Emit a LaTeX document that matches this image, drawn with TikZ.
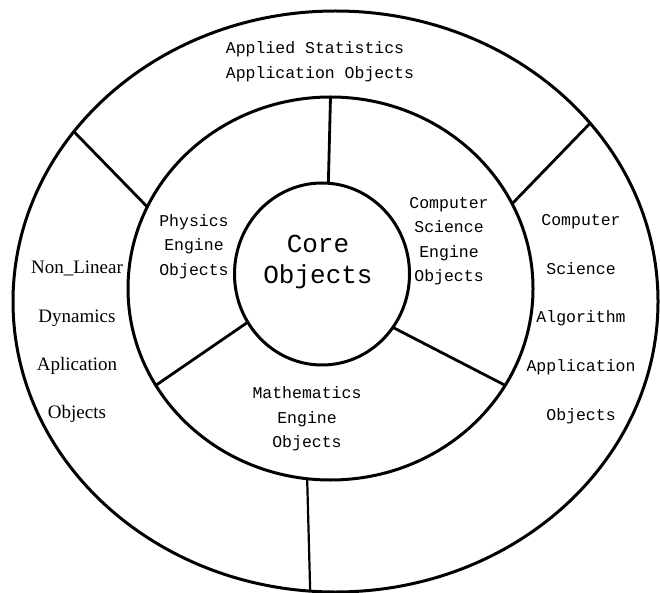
\documentclass[tikz,border=0pt]{standalone}
\usepackage{fontspec}
\newfontfamily\pixfont{Liberation Mono}
\newfontfamily\romfont{Liberation Serif}
\usetikzlibrary{shapes.geometric}
\begin{document}
\begin{tikzpicture}[x=1pt, y=-1pt, line width=3pt,
    ring/.style={draw, ellipse, inner sep=0pt, outer sep=0pt},
    spoke/.style={line width=2.8pt},
    lbl/.style={align=center, inner sep=0pt, font=\pixfont\fontsize{16.5}{24.5}\selectfont},
    col/.style={align=center, inner sep=0pt, font=\pixfont\fontsize{16.5}{48.7}\selectfont}]
  \useasboundingbox (0,0) rectangle (660,593);
  % rings
  \node[ring, minimum width=645pt, minimum height=581pt] (outer) at (335.5,301.5) {};
  \node[ring, minimum width=405pt, minimum height=383pt] (mid) at (330.5,288.5) {};
  \node[ring, minimum width=175pt, minimum height=182pt] (core) at (322,274) {};
  % spokes
  \draw[spoke] (core.86) -- (mid.90);
  \draw[spoke] (core.213) -- (mid.209);
  \draw[spoke] (core.323) -- (mid.331);
  \draw[spoke] (mid.156) -- (outer.147);
  \draw[spoke] (mid.25) -- (outer.35);
  \draw[spoke, line width=2.2pt] (mid.263) -- (outer.265);
  % labels
  \node[font=\pixfont\fontsize{26}{31}\selectfont, align=center, inner sep=0pt] (corelbl) at (318,262) {Core\\Objects};
  \node[lbl, align=left] (stat) at (320,61.5) {Applied Statistics\\Application Objects};
  \node[lbl] (phys) at (194,246.5) {Physics\\Engine\\Objects};
  \node[lbl] (csen) at (449,241) {Computer\\Science\\Engine\\Objects};
  \node[lbl] (math) at (307,419) {Mathematics\\Engine\\Objects};
  \node[col] (csalg) at (581,319) {Computer\\Science\\Algorithm\\Application\\Objects};
  \node[col, font=\romfont\fontsize{19}{48.3}\selectfont] (nonlin) at (77,342) {Non\_Linear\\Dynamics\\Aplication\\Objects};
\end{tikzpicture}
\end{document}
